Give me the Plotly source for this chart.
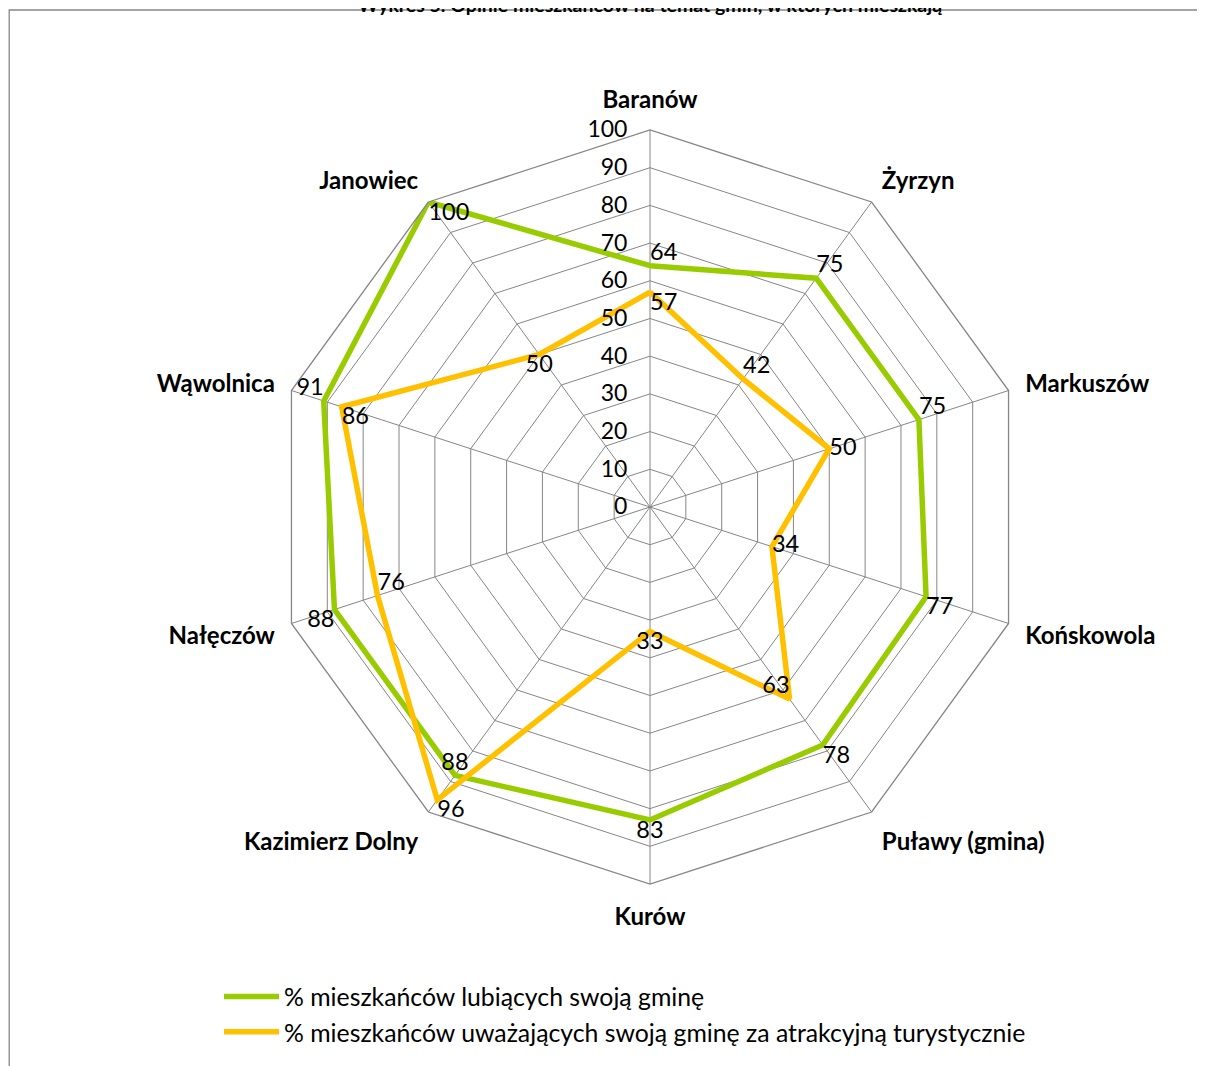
import plotly.graph_objects as go

categories = ["Baranów", "Żyrzyn", "Markuszów", "Końskowola", "Puławy (gmina)",
              "Kurów", "Kazimierz Dolny", "Nałęczów", "Wąwolnica", "Janowiec"]
lubiacych = [64, 75, 75, 77, 78, 83, 88, 88, 91, 100]
atrakcyjna = [57, 42, 50, 34, 63, 33, 96, 76, 86, 50]
series_names = ["% mieszkańców lubiących swoją gminę",
                "% mieszkańców uważających swoją gminę za atrakcyjną turystycznie"]
radial_ticks = [0, 10, 20, 30, 40, 50, 60, 70, 80, 90, 100]
title_text = "Wykres 5. Opinie mieszkańców na temat gmin, w których mieszkają"

GREEN = "#99CC00"
ORANGE = "#FFC000"
GRID = "#868686"
FONT = "Lato"
W, H = 1205, 1066
DX, DY = 8, 8  # page offset compensation

green_pos = ["top right", "top right", "top right", "bottom right", "bottom right",
             "bottom center", "top center", "bottom left", "top left", "bottom right"]
orange_pos = ["bottom right", "top right", "middle right", "middle right", "top left",
              "bottom center", "bottom right", "top right", "bottom right", "bottom center"]

fig = go.Figure()
for vals, name, color, pos in [(lubiacych, series_names[0], GREEN, green_pos),
                               (atrakcyjna, series_names[1], ORANGE, orange_pos)]:
    fig.add_trace(go.Scatterpolar(
        r=vals + vals[:1], theta=categories + categories[:1],
        mode="lines+text", name=name,
        line=dict(color=color, width=5.5),
        text=[str(v) for v in vals] + [""],
        textposition=pos + ["top center"],
        textfont=dict(family=FONT, size=23.5, color="#000000"),
        legendgroup=name, hoverinfo="skip", cliponaxis=False,
    ))

cx, cy, R = 650 - DX, 507 - DY, 377
fig.update_layout(
    width=W, height=H,
    margin=dict(l=0, r=0, t=0, b=0),
    paper_bgcolor="white",
    font=dict(family=FONT, color="#000000"),
    showlegend=True,
    annotations=[dict(text=title_text, x=cx / W, xanchor="center", y=1, yanchor="middle",
                      xref="paper", yref="paper", yshift=4, showarrow=False,
                      font=dict(family=FONT, size=19.5, weight="bold", color="#000000"))],
    polar=dict(
        domain=dict(x=[(cx - R) / W, (cx + R) / W],
                    y=[(H - cy - R) / H, (H - cy + R) / H]),
        gridshape="linear",
        bgcolor="white",
        radialaxis=dict(range=[0, 100], tickvals=radial_ticks, angle=90, tickangle=90,
                        side="counterclockwise", showline=False, ticks="outside",
                        ticklen=14, tickcolor="rgba(0,0,0,0)",
                        gridcolor=GRID, gridwidth=1.3,
                        tickfont=dict(family=FONT, size=23, color="#000000")),
        angularaxis=dict(direction="clockwise", rotation=90, showline=True,
                         linecolor=GRID, linewidth=1.3, gridcolor=GRID, gridwidth=1.3,
                         ticks="outside", ticklen=12, tickcolor="rgba(0,0,0,0)",
                         tickfont=dict(family=FONT, size=24, weight="bold",
                                       color="#000000")),
    ),
    legend=dict(x=(219 - DX) / W, xanchor="left", y=(H - (974 - DY)) / H, yanchor="top",
                itemwidth=55,
                font=dict(family=FONT, size=24.8, color="#000000"),
                traceorder="grouped", tracegroupgap=0, bgcolor="rgba(0,0,0,0)"),
    shapes=[dict(type="rect", xref="paper", yref="paper",
                 x0=0.001, x1=0.9995, y0=-0.02, y1=(H - (10 - DY)) / H,
                 line=dict(color=GRID, width=1.3), fillcolor="rgba(0,0,0,0)", layer="below")],
)

fig.write_html("out.html")
